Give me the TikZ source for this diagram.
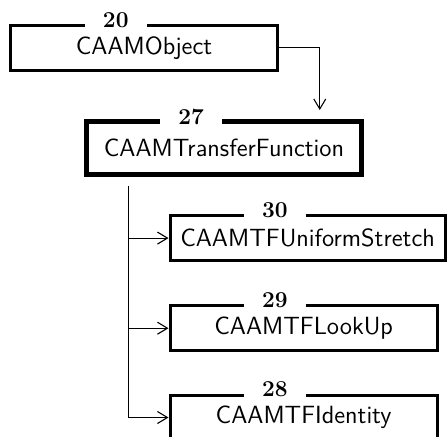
\documentclass[tikz,border=0pt]{standalone}
\usepackage{amsmath}
\usetikzlibrary{arrows.meta}

\begin{document}
\begin{tikzpicture}[x=0.55pt, y=-0.55pt,
  box/.style={draw, line width=1.65pt, minimum width=147pt, minimum height=24.5pt,
    inner xsep=3pt, font=\sffamily\fontsize{13.7}{16}\selectfont},
  num/.style={anchor=base, fill=white, inner xsep=10pt, inner ysep=3pt,
    font=\fontsize{12.5}{15}\selectfont\bfseries},
  conn/.style={line width=0.6pt, -{Straight Barb[length=5.5pt, width=6.6pt]}}]

  \useasboundingbox (0,0) rectangle (447,437);

  % base class
  \node[box] (obj) at (144,47.9) {CAAMObject};
  \node[num] (obj-num) at ([xshift=58.8pt, yshift=-1.65pt]obj.north west) {20};

  % transfer function
  \node[box, line width=2.75pt, minimum width=151pt, minimum height=28.9pt] (tf) at (224,148.25) {CAAMTransferFunction};
  \node[num] (tf-num) at ([xshift=58.8pt, yshift=-2.75pt]tf.north west) {27};

  % derived classes
  \node[box, anchor=west, minimum width=151.3pt] (uniform) at (168.5,238.1) {CAAMTFUniformStretch};
  \node[num] (uniform-num) at ([xshift=58.5pt, yshift=-1.65pt]uniform.north west) {30};
  \node[box, anchor=west] (lookup) at (168.5,328.2) {CAAMTFLookUp};
  \node[num] (lookup-num) at ([xshift=58.5pt, yshift=-1.65pt]lookup.north west) {29};
  \node[box, anchor=west] (identity) at (168.5,417.5) {CAAMTFIdentity};
  \node[num] (identity-num) at ([xshift=58.5pt, yshift=-1.65pt]identity.north west) {28};

  % inheritance obj -> tf
  \draw[conn, shorten >=5.2pt] (obj.east) -| ([xshift=-24.2pt]tf.north east);

  % trunk tf -> derived
  \coordinate (trunk) at ([xshift=24.2pt]tf.south west);
  \draw[conn, shorten <=5pt] (trunk) |- (identity.west);
  \draw[conn] (trunk |- uniform.west) to (uniform.west);
  \draw[conn] (trunk |- lookup.west) to (lookup.west);
\end{tikzpicture}
\end{document}
